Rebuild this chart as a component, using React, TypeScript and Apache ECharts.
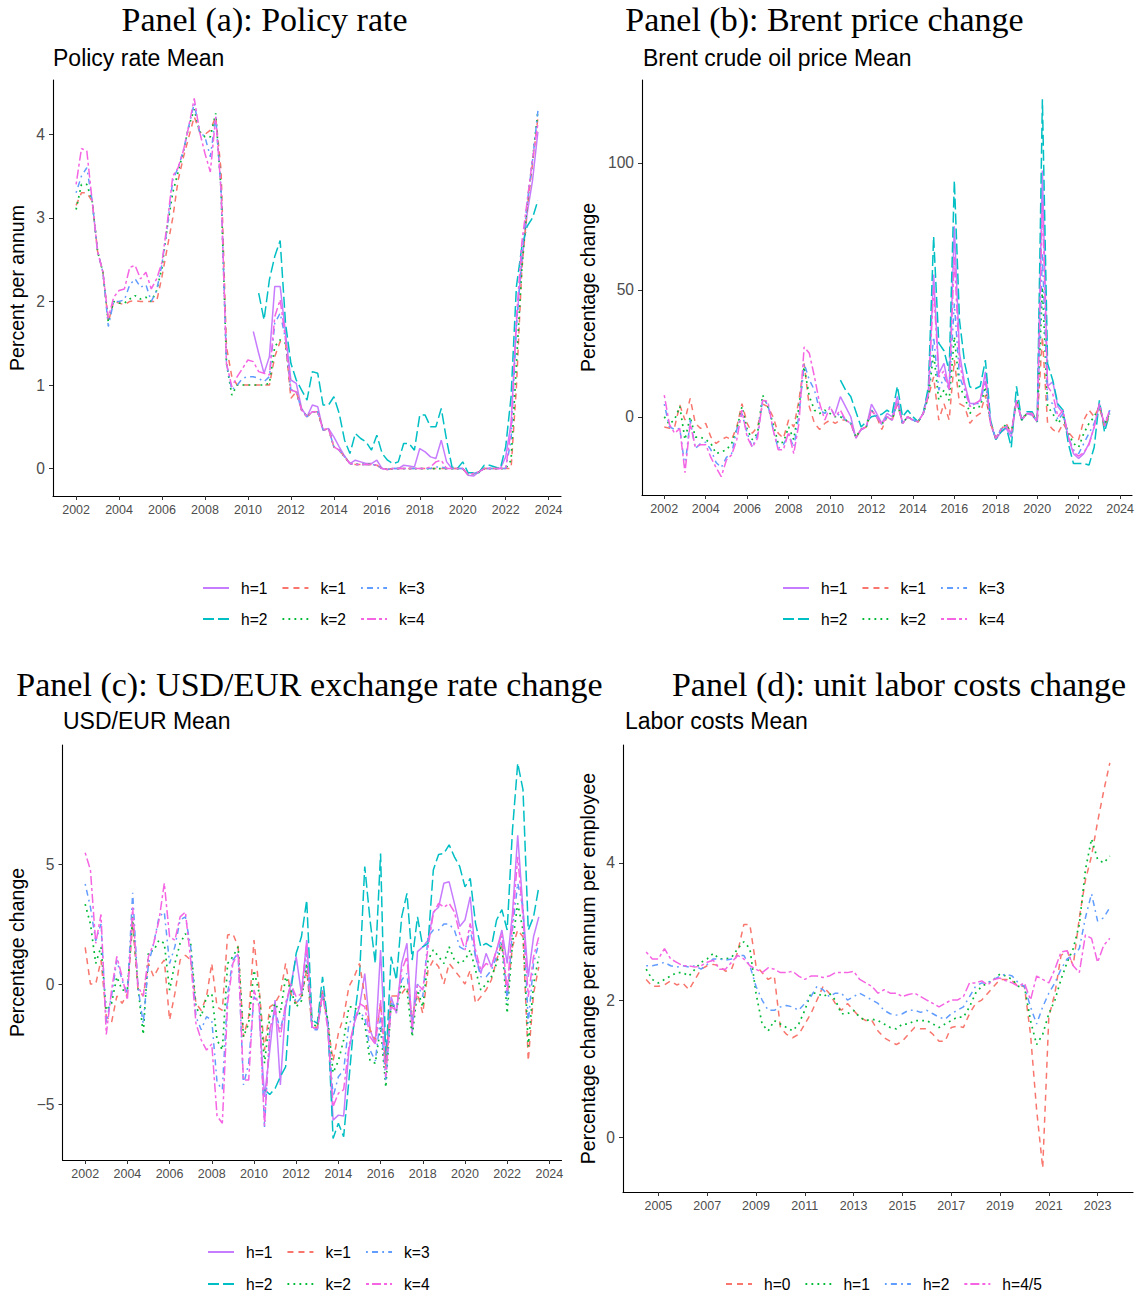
import React, { useEffect, useRef } from "react";
import * as echarts from "echarts";

// ---------- Data (quarterly) ----------
const START_ABC = 2002; // first quarter of k-series in panels a-c
const START_H1 = 2010.25;
const START_H2 = 2010.5;
const START_D = 2004.5;

const X_TICKS_ABC = [2002, 2004, 2006, 2008, 2010, 2012, 2014, 2016, 2018, 2020, 2022, 2024];
const X_TICKS_D = [2005, 2007, 2009, 2011, 2013, 2015, 2017, 2019, 2021, 2023];
const Y_TICKS_A = [0, 1, 2, 3, 4];
const Y_TICKS_B = [0, 50, 100];
const Y_TICKS_C = [-5, 0, 5];
const Y_TICKS_D = [0, 2, 4];

const LEGEND_ROW1 = ["h=1", "k=1", "k=3"];
const LEGEND_ROW2 = ["h=2", "k=2", "k=4"];
const LEGEND_D = ["h=0", "h=1", "h=2", "h=4/5"];

// Panel (a) Policy rate
const A_K1 = [3.15,3.3,3.3,3.2, 2.6,2.35,1.75,2.0, 1.98,1.96,2.0,2.01, 2.0,2.0,2.0,2.0, 2.3,2.65,3.0,3.45, 3.73,3.97,4.21,4.03, 4.0,4.05,4.21,3.57, 1.46,1.1,1.0,1.0, 1.0,1.0,1.0,1.0, 1.0,1.34,1.52,1.5, 0.84,0.92,0.7,0.62, 0.68,0.68,0.46,0.48, 0.26,0.22,0.14,0.06, 0.05,0.05,0.05,0.05, 0.04,0.0,-0.01,0.0, 0,0,0,0, 0,0,0,0, 0,0,0,0, 0,-0.07,-0.06,-0.04, 0,0,0,0, 0,0,0.98,2.38, 3.1,3.65,4.2];
const A_K2 = [3.1,3.4,3.4,3.2, 2.6,2.35,1.75,2.0, 1.98,1.98,2.03,2.07, 2.03,2.05,2.0,2.13, 2.41,2.9,3.3,3.55, 3.8,4.1,4.3,4.03, 3.97,3.97,4.25,3.33, 1.26,0.88,1.0,1.0, 1.0,1.0,1.0,1.0, 1.02,1.46,1.54,1.5, 0.94,0.92,0.7,0.62, 0.68,0.68,0.46,0.48, 0.26,0.22,0.14,0.06, 0.05,0.05,0.05,0.05, 0.04,0.0,-0.01,0.0, 0,0,0,0, 0,0,0,0, 0,0,0,0, 0,-0.07,-0.06,-0.04, 0,0,0,0, 0,0.1,1.26,2.38, 3.17,3.69,4.28];
const A_K3 = [3.3,3.5,3.6,3.2, 2.6,2.35,1.7,2.0, 2.0,2.02,2.2,2.27, 2.17,2.2,2.0,2.13, 2.45,2.9,3.45,3.6, 3.81,4.1,4.37,4.03, 3.97,3.73,4.21,3.33, 1.26,0.94,1.0,1.08, 1.1,1.1,1.08,1.04, 1.1,1.74,1.86,1.55, 0.94,0.92,0.7,0.62, 0.68,0.68,0.46,0.48, 0.26,0.22,0.14,0.06, 0.05,0.05,0.05,0.05, 0.04,0.0,-0.01,0.0, 0,0,0,0, 0,0,0,0.02, 0.02,0,0,0, 0,-0.07,-0.06,-0.04, 0,0,0,0, 0,0.34,1.7,2.54, 3.17,3.69,4.28];
const A_K4 = [3.4,3.83,3.8,3.2, 2.6,2.35,1.8,2.05, 2.13,2.15,2.41,2.43, 2.27,2.35,2.15,2.27, 2.47,2.95,3.5,3.6, 3.81,4.1,4.43,4.03, 3.77,3.55,4.21,3.33, 1.26,0.98,1.1,1.2, 1.3,1.28,1.16,1.14, 1.12,1.82,2.02,1.55, 0.94,0.92,0.7,0.62, 0.68,0.68,0.46,0.48, 0.26,0.22,0.14,0.06, 0.05,0.05,0.05,0.05, 0.04,0.0,-0.01,0.0, 0,0,0,0, 0,0,0.02,0.08, 0.1,0,0,0, 0,-0.07,-0.06,-0.04, 0,0,0,0, 0,0.46,1.8,2.7, 3.2,3.7,4.13];
const A_H1 = [1.64,1.38,1.14, 1.34,2.18,2.18,1.62, 1.06,1.02,0.72,0.62, 0.76,0.74,0.46,0.48, 0.38,0.26,0.15,0.06, 0.1,0.08,0.06,0.06, 0.1,0.0,-0.01,0.0, 0.0,0.04,0.03,0.02, 0.24,0.2,0.14,0.12, 0.34,0.08,0.0,0.0, 0.0,-0.08,-0.09,-0.04, 0,0,0,0, 0.14,0.54,1.74,2.46, 3.05,3.45,4.03];
const A_H2 = [2.1,1.78, 2.26,2.54,2.73,1.74, 1.26,1.06,0.94,0.82, 1.16,1.14,0.76,0.76, 0.86,0.66,0.34,0.18, 0.42,0.36,0.32,0.22, 0.4,0.18,0.1,0.06, 0.08,0.3,0.3,0.22, 0.64,0.64,0.5,0.5, 0.72,0.34,0.02,0.0, 0.08,-0.05,-0.05,-0.05, 0.04,0.04,0.02,0.0, 0.26,0.86,2.18,2.65, 2.9,3.0,3.21];

// Panel (b) Brent price change
const B_K1 = [-4,-4.5,-4,4.6, -1.3,7.2,-2.6,-4.6, -2.6,-8,-10.5,-9, -8,-9,-4,5.2, -2.6,-6.5,-4,5, 4,0,-6.5,-8.5, -1.3,-4,6.5,21, 4,-2.6,-5,-2.6, -1.3,-2.6,-1.3,-1.3, -2.6,-8,-5,-4, 2.6,0,-5,0, -1.3,5,-2.6,0, -1.3,-2,1.3,8, 15.7,-1.3,5.2,-1.3, 22.3,5.2,4,-2.6, 0,1.3,8.5,-2.6, -8.5,-5,-2.6,-6.5, 6.5,-1.3,1.3,1.3, -2,31.5,-2.6,-5, -6.5,-2.6,-6,-8.5, -9,-1.3,2.6,0, 4,-4,1.3];
const B_K2 = [0,-3,-1,4, -9,0,-8,-8, -9,-10.5,-14.5,-13.8, -13,-10.5,-5,4, -5,-9,-6.5,8.5, 4,-2.6,-10.5,-10, -4,-9,4,19.7, 8,2.6,1.3,2.6, 1.3,0,0,-1.3, -2.6,-8,-5,-4, 2.6,0,-3,0, -1.3,6,-2.6,0, -1.3,-2,1.3,8, 25,6.5,10.5,6.5, 31.5,11.8,8,1.3, 4,4,11.8,-2.6, -8.5,-5,-3,-6.5, 6.5,-1.3,1.3,1.3, -2,51,4,1.3, -2.6,0,-6.5,-10.5, -12,-6.5,-2.6,0, 4,-3,1.3];
const B_K3 = [5,-4,-5,-4.6, -20,-1.3,-12.5,-10.5, -10,-13,-18,-20, -16,-14.5,-5,1.3, -6.5,-12,-7,6.5, 5,-5,-12.5,-11, -7,-12,0.6,21, 14.5,10.5,2.6,1.3, 4,0,1.3,-1.3, -2.6,-8,-5,-4, 2.6,0,-3,0, -1.3,6,-2.6,0, -1.3,-2,1.3,9, 31.5,10.5,15.7,10.5, 44.6,15.7,10.5,4, 5.2,5.2,14.4,-2.6, -8.5,-5,-3.5,-6.5, 6.5,-1.3,1.3,1.3, -2,64,6.5,5.2, -1.3,1.3,-8,-13, -14.5,-10.5,-6.5,-2.6, 4,-2.6,2.6];
const B_K4 = [8.5,-3,-6.5,-4.6, -22,-2.6,-12,-11, -11,-16,-20,-23.6, -17,-15,-9,2.6, -8,-12,-8.5,6.5, 6,-5,-13,-13, -6,-14.5,-2.6,27.5, 25,15.7,5.2,-1.3, 4,0,2.6,-1.3, -2.6,-8,-5,-4, 2.6,0,-3,0, -1.3,6,-2.6,0, -1.3,-2,1.3,9, 51,15.7,18,10.5, 63,21,11.8,4, 5.2,6.5,15.7,-2.6, -8.5,-5,-4,-6.5, 6.5,-1.3,1.3,1.3, -2,84,12,9, 0,2.6,-8,-14, -15.5,-14,-11,-4, 5.2,-3.5,2.6];
const B_H1 = [1.3,7.9,4, 0,-8.5,-5,-4, 5,1.3,-2.6,1.3, 0,8,-2.6,0, -1.3,-2,1.3,10.5, 56,17,21,10.5, 75,25,13,5.2, 5.2,6.5,17.7,-2.6, -9,-6,-4.6,-8, 6.5,-1.3,1.3,0.6, -2,97,12,13.8, 4,1.3,-8,-14.5, -16.4,-14.5,-10.5,-4, 5.2,-4,2.6];
const B_H2 = [14.4,10.5, 8,2,-4,-2, 0,0.5,1,2.6, 1.3,12,0,2.6, 0,-2,1.3,12, 71,29,26,18, 93,38,21,11.8, 11,12,22.3,-1.3, -9,-6,-4,-12, 12,-1.3,2,2, -2,125,21,14.4, 5,2.6,-10.5,-18.4, -18.4,-18.4,-19,-12, 6.5,-6,1.3];

// Panel (c) USD/EUR exchange rate change
const C_K1 = [1.53,0,0,1.0, -1.35,-1.6,-0.5,-0.8, -0.4,2.5,-0.2,-0.5, 0.86,0.3,0.72,1.0, -1.5,-0.4,1.0,1.2, 1.0,-0.8,-1.1,-0.53, 0.86,-0.95,-1.1,2.04, 2.1,1.55,-2.2,-1.36, 1.83,-0.25,-2.75,-0.95, -0.8,-0.4,0.86,-0.4, -0.8,-0.5,0.58,-1.8, -1.8,-0.3,-1.7,-3.2, -2.05,-1.36,-0.1,0.3, 0.86,-0.5,-1.9,-2.33, -0.8,-3.45,-0.5,-0.5, -0.4,-0.1,-1.36,-0.4, -1.22,0.58,1.0,0.72, 0,0.86,0.58,0.3, 0,0.58,-0.8,-0.53, -0.25,0.17,1.0,1.7, -0.5,1.55,2.25,1.97, -3.2,-0.4,0.72];
const C_K2 = [3.33,2.5,0.86,1.55, -1.1,-0.8,0.3,-0.25, -0.25,2.8,-0.1,-2.1, 1.35,1.4,1.83,1.7, -0.25,0.86,1.7,2.1, 1.7,-0.95,-1.36,-0.53, -0.4,-2.33,-2.75,0.86, 1.14,1.55,-2.2,-1.64, 0.58,-0.4,-3.3,-1.36, -0.8,-1.22,0.3,-0.25, -0.95,-0.7,0.86,-1.64, -1.78,-0.4,-1.5,-3.7, -3.2,-2.33,-0.95,-0.95, -1.22,-1.64,-3.2,-3.3, -1.78,-4.3,-0.8,-1.1, 0,-0.25,-2.2,-0.25, -0.95,1.0,1.42,1.14, 0.86,1.55,1.0,0.86, 1.0,1.42,0.58,-0.25, 0,0.3,0.86,1.7, -1.22,1.7,3.36,2.25, -2.6,0,1.14];
const C_K3 = [4.17,3.2,1.8,2.5, -1.6,-0.5,1.0,0.15, -0.4,3.8,-0.1,-1.65, 0.85,1.7,2.8,3.0, 0.86,1.55,2.67,2.8, 1.55,-1.36,-1.9,-1.36, -1.5,-4.1,-4.4,-0.4, 1.0,1.28,-4.2,-3.3, -0.53,-0.8,-5.95,-1.9, -1.1,-1.9,-0.95,0, -0.8,-0.55,1.28,-1.9, -1.9,-0.4,-1.64,-4.7, -3.86,-3.6,-1.64,-1.36, -1.22,-1.36,-2.75,-3.2, -1.36,-4.0,-0.8,-0.95, 0.17,0.44,-1.64,0, -0.53,1.97,2.25,2.25, 2.5,2.5,2.25,1.55, 1.42,2.25,1.14,0.3, 0.3,0.58,1.14,1.97, -0.7,2.25,4.2,3.2, -1.64,0.86,1.7];
const C_K4 = [5.47,4.75,1.7,2.9, -2.1,-0.25,1.15,0.3, -0.67,3.2,-0.1,-0.5, 1.15,1.7,2.67,4.2, 1.97,1.83,2.8,3.0, 1.0,-1.64,-2.33,-2.75, -2.5,-5.5,-5.8,-0.8, 0.86,1.28,-4.0,-4.0, -0.25,-0.95,-5.9,-1.9, -1.1,-2.2,-0.8,0, -0.53,-0.4,1.7,-1.78, -1.9,-0.4,-1.9,-5.1, -4.55,-4.4,-2.6,-1.64, -0.8,-0.95,-2.2,-2.5, -0.67,-3.86,-0.95,-1.1, 0.58,1.14,-1.78,0, -0.25,1.55,2.94,3.36, 3.2,3.36,3.0,2.1, 1.42,2.53,1.42,0.58, 0.86,0.72,1.42,2.1, -0.3,2.53,5.3,2.8, -0.53,1.14,1.97];
const C_H1 = [-1.3,-4.7,-2.75, -0.67,-4.2,-0.95,0, 1.14,-0.4,1.83,-1.78, -1.9,-0.25,-1.64,-5.67, -5.46,-5.5,-2.75,-1.64, -0.95,0.44,-1.9,-2.5, 1.42,-3.2,-0.53,-1.22, 0.86,1.7,-2.05,1.35, 1.55,1.83,3.0,3.2, 4.2,4.26,3.36,2.4, 2.67,3.64,1.14,0.44, 1.28,0.72,1.42,2.25, 0.86,2.94,6.2,3.1, 0.3,1.97,2.8];
const C_H2 = [-4.4,-4.6, -4.35,-3.86,-3.45,-0.25, 1.28,1.97,3.5,-1.5, -1.64,0.3,-1.64,-6.43, -5.8,-6.36,-4.0,-1.5, 0.3,4.9,2.67,0.86, 5.44,-3.3,1.14,0.17, 2.8,3.78,1.0,2.8, 1.55,1.7,4.75,5.4, 5.44,5.8,5.3,4.9, 4.05,4.4,2.53,1.55, 1.7,1.55,2.67,3.1, 2.25,6.4,9.2,8.1, 2.25,2.8,4.05];

// Panel (d) unit labor costs change
const D_H0 = [2.3,2.2, 2.2,2.22,2.28,2.22, 2.25,2.15,2.3,2.45, 2.5,2.52,2.5,2.42, 2.45,2.7,3.1,3.1, 2.5,2.4,2.3,2.35, 1.6,1.5,1.45,1.5, 1.65,1.8,2.0,2.2, 2.1,1.95,1.85,1.95, 1.85,1.75,1.7,1.7, 1.55,1.45,1.4,1.35, 1.4,1.5,1.6,1.58, 1.58,1.5,1.4,1.4, 1.6,1.62,1.6,1.8, 1.95,2.0,2.1,2.2, 2.3,2.3,2.28,2.2, 2.2,1.5,0.4,-0.45, 1.75,2.1,2.65,2.72, 2.5,3.2,3.75,4.1, 4.6,5.05,5.46];
const D_H1 = [2.45,2.3, 2.25,2.3,2.35,2.4, 2.4,2.35,2.45,2.55, 2.6,2.68,2.6,2.6, 2.62,2.75,2.85,2.75, 2.1,1.65,1.55,1.7, 1.65,1.6,1.55,1.65, 1.85,2.1,2.1,2.05, 2.1,2.0,1.8,1.8, 1.85,1.75,1.7,1.72, 1.7,1.65,1.6,1.58, 1.65,1.65,1.7,1.7, 1.7,1.65,1.6,1.65, 1.7,1.75,1.75,1.9, 2.1,2.2,2.25,2.3, 2.38,2.35,2.3,2.2, 2.2,1.7,1.35,1.5, 1.8,2.0,2.3,2.55, 2.75,3.1,3.9,4.35, 4.05,4.0,4.1];
const D_H2 = [2.5,2.5, 2.52,2.55,2.5,2.48, 2.5,2.48,2.5,2.45, 2.52,2.6,2.6,2.58, 2.6,2.65,2.65,2.5, 2.2,2.0,1.85,1.85, 1.9,1.92,1.9,1.85, 1.95,2.05,2.2,2.15, 2.05,2.1,2.1,2.0, 2.05,2.1,2.05,2.0, 1.95,1.85,1.8,1.78, 1.8,1.85,1.85,1.82, 1.85,1.8,1.75,1.72, 1.8,1.85,1.9,2.05, 2.2,2.25,2.25,2.3, 2.35,2.38,2.35,2.25, 2.2,1.9,1.65,1.9, 2.1,2.25,2.45,2.6, 2.65,2.75,3.2,3.55, 3.15,3.2,3.35];
const D_H45 = [2.7,2.6, 2.6,2.75,2.6,2.55, 2.5,2.5,2.48,2.5, 2.55,2.58,2.45,2.45, 2.55,2.65,2.6,2.5, 2.45,2.4,2.47,2.45, 2.4,2.4,2.42,2.35, 2.3,2.35,2.35,2.33, 2.35,2.4,2.4,2.4, 2.42,2.3,2.25,2.2, 2.1,2.15,2.1,2.1, 2.05,2.08,2.1,2.05, 2.0,1.95,1.9,1.95, 2.0,2.0,2.05,2.25, 2.25,2.28,2.22,2.3, 2.32,2.28,2.25,2.2, 2.25,2.0,2.35,2.3, 2.25,2.45,2.7,2.72, 2.5,2.4,2.95,2.9, 2.55,2.8,2.9];

// ---------- Styles ----------
const SANS = "'Liberation Sans', Arial, Helvetica, sans-serif";
const SERIF = "'Liberation Serif', 'Times New Roman', serif";
const LW = 1.5;

const DOT = [1.8, 4.2];
const STY: Record<string, { color: string; type: any }> = {
  "h=1": { color: "#C77CFF", type: "solid" },
  "h=2": { color: "#00BFC4", type: [11, 4] },
  "k=1": { color: "#F8766D", type: [6, 5] },
  "k=2": { color: "#00BA38", type: DOT },
  "k=3": { color: "#619CFF", type: [1.8, 4.2, 6, 4.2] },
  "k=4": { color: "#F564E3", type: [3, 3, 9, 3] },
  "D h=0": { color: "#F8766D", type: [6, 5] },
  "D h=1": { color: "#00BA38", type: DOT },
  "D h=2": { color: "#619CFF", type: [1.8, 4.2, 6, 4.2] },
  "D h=4/5": { color: "#F564E3", type: [3, 3, 9, 3] },
};

function pairs(start: number, values: number[]) {
  return values.map((v, i) => [start + i * 0.25, v]);
}

function lineSeries(name: string, idx: number, start: number, values: number[]) {
  const s = STY[name];
  const dotted = s.type === DOT;
  return {
    type: "line",
    name,
    xAxisIndex: idx,
    yAxisIndex: idx,
    data: pairs(start, values),
    symbol: "none",
    showSymbol: false,
    silent: true,
    color: s.color,
    lineStyle: { color: s.color, width: dotted ? 1.7 : LW, type: s.type, cap: "butt" },
    emphasis: { disabled: true },
  };
}

const fmtMinus = (v: number) => String(v).replace("-", "\u2212");
const fmtYear = (v: number) => String(Math.round(v));

function xAxis(gridIndex: number, min: number, max: number, ticks: number[]) {
  return {
    type: "value",
    gridIndex,
    min,
    max,
    splitLine: { show: false },
    axisLine: { show: true, onZero: false, lineStyle: { color: "#000", width: 1.1 } },
    axisTick: { show: true, length: 4, lineStyle: { color: "#333", width: 1 }, customValues: ticks },
    axisLabel: { customValues: ticks, color: "#4D4D4D", fontSize: 12.5, fontFamily: SANS, margin: 7, formatter: fmtYear },
  };
}

function yAxis(gridIndex: number, min: number, max: number, ticks: number[], name: string, nameGap: number) {
  return {
    type: "value",
    gridIndex,
    min,
    max,
    name,
    nameLocation: "middle",
    nameGap,
    nameTextStyle: { color: "#000", fontSize: 19.5, fontFamily: SANS },
    splitLine: { show: false },
    axisLine: { show: true, onZero: false, lineStyle: { color: "#000", width: 1.1 } },
    axisTick: { show: true, length: 4, lineStyle: { color: "#333", width: 1 }, customValues: ticks },
    axisLabel: { customValues: ticks, color: "#4D4D4D", fontSize: 15.6, fontFamily: SANS, margin: 8, formatter: fmtMinus },
  };
}

function legend(data: string[], left: number, top: number, strip = false) {
  return {
    data,
    left,
    top,
    orient: "horizontal",
    padding: 0,
    itemWidth: 26,
    itemHeight: 14,
    itemGap: 14,
    selectedMode: false,
    itemStyle: { opacity: 0 },
    textStyle: { color: "#000", fontSize: 15.6, fontFamily: SANS, padding: [0, 0, 0, 7] },
    formatter: strip ? (n: string) => n.replace(/^D /, "") : (n: string) => n,
  };
}

function headText(text: string, x: number, y: number, font: string, align: string) {
  return {
    type: "text",
    x,
    y,
    silent: true,
    style: {
      text,
      font,
      fill: "#000",
      align,
      verticalAlign: "middle",
      textAlign: align,
      textVerticalAlign: "middle",
    },
  };
}

function buildOption() {
  const series: any[] = [];
  const abc = [
    { k: [A_K1, A_K2, A_K3, A_K4], h1: A_H1, h2: A_H2 },
    { k: [B_K1, B_K2, B_K3, B_K4], h1: B_H1, h2: B_H2 },
    { k: [C_K1, C_K2, C_K3, C_K4], h1: C_H1, h2: C_H2 },
  ];
  abc.forEach((p, idx) => {
    series.push(lineSeries("h=1", idx, START_H1, p.h1));
    series.push(lineSeries("h=2", idx, START_H2, p.h2));
    p.k.forEach((vals, j) => series.push(lineSeries(`k=${j + 1}`, idx, START_ABC, vals)));
  });
  series.push(lineSeries("D h=0", 3, START_D, D_H0));
  series.push(lineSeries("D h=1", 3, START_D, D_H1));
  series.push(lineSeries("D h=2", 3, START_D, D_H2));
  series.push(lineSeries("D h=4/5", 3, START_D, D_H45));

  const headFont = `34px ${SERIF}`;
  const subFont = `23px ${SANS}`;

  return {
    animation: false,
    backgroundColor: "#ffffff",
    grid: [
      { left: 53, top: 80, width: 508, height: 416, outerBoundsMode: "none", containLabel: false },
      { left: 642, top: 80, width: 490, height: 415, outerBoundsMode: "none", containLabel: false },
      { left: 62.5, top: 745, width: 499, height: 415, outerBoundsMode: "none", containLabel: false },
      { left: 623, top: 745, width: 510, height: 447, outerBoundsMode: "none", containLabel: false },
    ],
    xAxis: [
      xAxis(0, 2000.925, 2024.575, X_TICKS_ABC),
      xAxis(1, 2000.925, 2024.575, X_TICKS_ABC),
      xAxis(2, 2000.925, 2024.575, X_TICKS_ABC),
      xAxis(3, 2003.55, 2024.45, X_TICKS_D),
    ],
    yAxis: [
      yAxis(0, -0.328, 4.65, Y_TICKS_A, "Percent per annum", 26),
      yAxis(1, -30.8, 132.6, Y_TICKS_B, "Percentage change", 44),
      yAxis(2, -7.33, 9.96, Y_TICKS_C, "Percentage change", 36),
      yAxis(3, -0.8, 5.72, Y_TICKS_D, "Percentage change per annum per employee", 25),
    ],
    legend: [
      legend(LEGEND_ROW1, 202, 580),
      legend(LEGEND_ROW2, 202, 611),
      legend(LEGEND_ROW1, 782, 580),
      legend(LEGEND_ROW2, 782, 611),
      legend(LEGEND_ROW1, 207, 1244),
      legend(LEGEND_ROW2, 207, 1276),
      legend(LEGEND_D.map((n) => "D " + n), 725, 1276, true),
    ],
    graphic: [
      headText("Panel (a): Policy rate", 264.5, 19, headFont, "center"),
      headText("Panel (b): Brent price change", 824.5, 19, headFont, "center"),
      headText("Panel (c): USD/EUR exchange rate change", 309.5, 684, headFont, "center"),
      headText("Panel (d): unit labor costs change", 899, 684, headFont, "center"),
      headText("Policy rate Mean", 53, 57.5, subFont, "left"),
      headText("Brent crude oil price Mean", 643, 57.5, subFont, "left"),
      headText("USD/EUR Mean", 63, 721, subFont, "left"),
      headText("Labor costs Mean", 625, 721, subFont, "left"),
    ],
    series,
  };
}

export default function App() {
  const ref = useRef<HTMLDivElement>(null);
  useEffect(() => {
    if (!ref.current) return;
    const chart = echarts.init(ref.current, null, { renderer: "svg" });
    chart.setOption(buildOption() as any);
    return () => chart.dispose();
  }, []);
  return (
    <div
      ref={ref}
      style={{ position: "absolute", left: 0, top: 0, width: 1138, height: 1294, background: "#fff" }}
    />
  );
}
